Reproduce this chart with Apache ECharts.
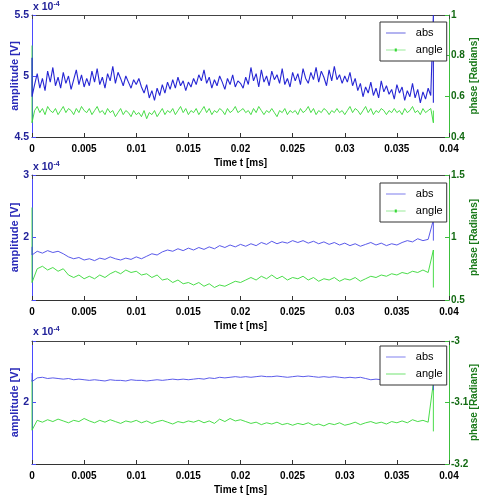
<!DOCTYPE html>
<html><head><meta charset="utf-8">
<script src="https://cdn.jsdelivr.net/npm/echarts@6/dist/echarts.min.js"></script>
<style>html,body{margin:0;padding:0;background:#fff}#c{width:483px;height:498px}</style>
</head><body><div id="c"></div>
<script>
// time samples (ms); first/last duplicated for the edge transients
const tFine = [0, 0,
0.00025,0.0005,0.00075,0.001,0.00125,0.0015,0.00175,0.002,0.00225,0.0025,0.00275,0.003,0.00325,0.0035,0.00375,0.004,0.00425,0.0045,0.00475,0.005,
0.00525,0.0055,0.00575,0.006,0.00625,0.0065,0.00675,0.007,0.00725,0.0075,0.00775,0.008,0.00825,0.0085,0.00875,0.009,0.00925,0.0095,0.00975,0.01,
0.01025,0.0105,0.01075,0.011,0.01125,0.0115,0.01175,0.012,0.01225,0.0125,0.01275,0.013,0.01325,0.0135,0.01375,0.014,0.01425,0.0145,0.01475,0.015,
0.01525,0.0155,0.01575,0.016,0.01625,0.0165,0.01675,0.017,0.01725,0.0175,0.01775,0.018,0.01825,0.0185,0.01875,0.019,0.01925,0.0195,0.01975,0.02,
0.02025,0.0205,0.02075,0.021,0.02125,0.0215,0.02175,0.022,0.02225,0.0225,0.02275,0.023,0.02325,0.0235,0.02375,0.024,0.02425,0.0245,0.02475,0.025,
0.02525,0.0255,0.02575,0.026,0.02625,0.0265,0.02675,0.027,0.02725,0.0275,0.02775,0.028,0.02825,0.0285,0.02875,0.029,0.02925,0.0295,0.02975,0.03,
0.03025,0.0305,0.03075,0.031,0.03125,0.0315,0.03175,0.032,0.03225,0.0325,0.03275,0.033,0.03325,0.0335,0.03375,0.034,0.03425,0.0345,0.03475,0.035,
0.03525,0.0355,0.03575,0.036,0.03625,0.0365,0.03675,0.037,0.03725,0.0375,0.03775,0.038,0.03825,0.0385,
0.0385];
const tCoarse = [0, 0,
0.0005,0.001,0.0015,0.002,0.0025,0.003,0.0035,0.004,0.0045,0.005,
0.0055,0.006,0.0065,0.007,0.0075,0.008,0.0085,0.009,0.0095,0.01,
0.0105,0.011,0.0115,0.012,0.0125,0.013,0.0135,0.014,0.0145,0.015,
0.0155,0.016,0.0165,0.017,0.0175,0.018,0.0185,0.019,0.0195,0.02,
0.0205,0.021,0.0215,0.022,0.0225,0.023,0.0235,0.024,0.0245,0.025,
0.0255,0.026,0.0265,0.027,0.0275,0.028,0.0285,0.029,0.0295,0.03,
0.0305,0.031,0.0315,0.032,0.0325,0.033,0.0335,0.034,0.0345,0.035,
0.0355,0.036,0.0365,0.037,0.0375,0.038,0.0385,
0.0385];

// Plot 1 (amplitude in units of 1e-4 V, phase in rad)
const abs1 = [5.15, 4.83,
4.93,5.02,4.90,4.98,4.88,5.04,4.95,5.07,4.92,4.99,4.90,5.03,4.94,5.00,4.89,4.97,5.05,4.93,5.01,4.91,
4.98,4.92,5.04,4.95,5.06,4.93,4.99,4.90,5.02,4.96,5.08,4.94,5.03,4.98,4.92,5.00,4.95,4.90,4.97,4.93,
4.98,4.91,4.86,4.93,4.82,4.88,4.80,4.90,4.84,4.93,4.86,4.95,4.89,4.97,4.90,4.99,4.92,4.96,4.88,4.95,
4.91,4.98,4.93,5.01,4.96,5.05,4.94,4.99,4.90,4.97,4.92,5.00,4.95,4.89,4.98,4.93,5.01,4.91,4.96,4.94,
4.90,4.99,4.93,5.07,4.96,5.02,4.91,5.05,4.95,5.00,4.92,5.04,4.97,5.01,4.94,5.06,4.93,4.98,4.91,5.03,
4.96,5.02,4.93,5.06,4.98,4.94,5.03,4.97,5.07,4.95,5.04,4.99,4.92,5.05,4.96,5.08,4.97,5.01,4.94,5.00,
4.95,5.03,4.92,4.98,4.88,4.94,4.83,4.91,4.86,4.95,4.84,4.90,4.82,4.96,4.87,4.92,4.85,4.89,4.81,4.93,
4.86,4.91,4.80,4.88,4.83,4.94,4.82,4.89,4.78,4.87,4.81,4.90,4.84,
5.5, 4.78];
const angle1 = [0.85, 0.47,
0.53,0.55,0.52,0.54,0.51,0.55,0.53,0.52,0.54,0.51,0.53,0.55,0.52,0.54,0.53,0.51,0.54,0.52,0.55,0.53,
0.52,0.54,0.51,0.53,0.55,0.52,0.53,0.51,0.54,0.52,0.53,0.50,0.52,0.54,0.51,0.53,0.52,0.50,0.53,0.51,
0.52,0.50,0.53,0.49,0.52,0.51,0.53,0.50,0.52,0.54,0.51,0.53,0.52,0.54,0.51,0.53,0.55,0.52,0.54,0.51,
0.53,0.52,0.54,0.51,0.53,0.55,0.52,0.54,0.51,0.53,0.52,0.54,0.53,0.51,0.54,0.52,0.53,0.55,0.52,0.53,
0.54,0.52,0.53,0.51,0.54,0.52,0.55,0.53,0.51,0.53,0.52,0.54,0.52,0.50,0.53,0.52,0.54,0.51,0.53,0.52,
0.53,0.51,0.54,0.52,0.53,0.55,0.52,0.54,0.51,0.53,0.52,0.54,0.53,0.51,0.53,0.52,0.54,0.52,0.53,0.51,
0.53,0.55,0.52,0.54,0.53,0.51,0.53,0.55,0.52,0.54,0.51,0.53,0.52,0.54,0.53,0.51,0.53,0.52,0.54,0.52,
0.53,0.51,0.54,0.52,0.53,0.55,0.52,0.53,0.51,0.54,0.52,0.53,0.54,
0.47, 0.53];

// Plot 2
const abs2 = [1.85, 1.72,
1.78,1.75,1.79,1.76,1.78,1.74,1.69,1.66,1.68,1.64,
1.66,1.63,1.67,1.65,1.69,1.66,1.64,1.67,1.65,1.69,
1.66,1.70,1.74,1.72,1.77,1.80,1.78,1.82,1.79,1.83,
1.80,1.84,1.81,1.85,1.82,1.87,1.84,1.88,1.85,1.89,
1.86,1.90,1.87,1.92,1.89,1.94,1.90,1.93,1.91,1.95,
1.92,1.95,1.91,1.94,1.90,1.93,1.89,1.92,1.88,1.91,
1.87,1.90,1.86,1.89,1.92,1.88,1.91,1.87,1.90,1.88,
1.92,1.95,1.93,1.98,1.95,1.97,
2.28, 1.95];
const angle2 = [1.24, 0.64,
0.75,0.77,0.74,0.76,0.73,0.75,0.70,0.68,0.70,0.67,
0.69,0.67,0.70,0.68,0.71,0.73,0.71,0.74,0.72,0.73,
0.70,0.71,0.68,0.70,0.66,0.67,0.64,0.66,0.63,0.64,
0.62,0.64,0.61,0.63,0.60,0.62,0.61,0.63,0.65,0.64,
0.66,0.68,0.66,0.69,0.67,0.70,0.67,0.69,0.66,0.68,
0.67,0.69,0.66,0.68,0.65,0.67,0.66,0.68,0.65,0.67,
0.66,0.68,0.65,0.67,0.69,0.68,0.70,0.69,0.71,0.70,
0.72,0.71,0.73,0.72,0.74,0.72,
0.90, 0.60];

// Plot 3
const abs3 = [2.48, 2.34,
2.40,2.41,2.39,2.40,2.39,2.38,2.39,2.37,2.38,2.37,
2.36,2.37,2.36,2.35,2.37,2.36,2.36,2.35,2.37,2.36,
2.36,2.35,2.36,2.37,2.36,2.37,2.38,2.37,2.38,2.37,
2.38,2.39,2.38,2.40,2.39,2.41,2.40,2.41,2.42,2.41,
2.42,2.41,2.42,2.43,2.42,2.42,2.43,2.42,2.41,2.42,
2.43,2.42,2.43,2.42,2.41,2.42,2.41,2.42,2.41,2.40,
2.41,2.40,2.41,2.39,2.37,2.38,2.37,2.38,2.37,2.38,
2.37,2.38,2.37,2.38,2.37,2.38,
2.38, 2.20];
const angle3 = [-3.063, -3.145,
-3.129,-3.132,-3.128,-3.131,-3.127,-3.130,-3.133,-3.129,-3.131,-3.126,
-3.130,-3.133,-3.129,-3.132,-3.128,-3.131,-3.134,-3.130,-3.132,-3.129,
-3.133,-3.130,-3.134,-3.131,-3.129,-3.132,-3.135,-3.131,-3.133,-3.130,
-3.132,-3.129,-3.133,-3.130,-3.134,-3.127,-3.131,-3.126,-3.130,-3.128,
-3.131,-3.134,-3.132,-3.136,-3.133,-3.135,-3.132,-3.136,-3.134,-3.137,
-3.134,-3.136,-3.133,-3.137,-3.135,-3.138,-3.134,-3.136,-3.133,-3.137,
-3.135,-3.132,-3.136,-3.133,-3.131,-3.134,-3.132,-3.135,-3.131,-3.133,
-3.130,-3.133,-3.128,-3.131,-3.129,-3.132,
-3.068, -3.147];

const legendNames = ['abs', 'angle'];
const xName = 'Time t [ms]';
const yLeftName = 'amplitude [V]';
const yRightName = 'phase [Radians]';
const expLabel = 'x 10';
const expSup = '-4';

const ff = "'Liberation Sans Narrow', 'Liberation Sans', Arial, sans-serif";
const ffN = "'Liberation Sans', Arial, sans-serif";
const BLUE_AX = '#4a4aff', GREEN_AX = '#3cbf3c';
const grids = [
  {left: 32, top: 15, width: 417, height: 122, outerBoundsMode: 'none', containLabel: false},
  {left: 32, top: 175, width: 417, height: 125, outerBoundsMode: 'none', containLabel: false},
  {left: 32, top: 341, width: 417, height: 123, outerBoundsMode: 'none', containLabel: false}
];

function pair(t, v) { return t.map((x, i) => [x, v[i]]); }

const xAxes = [], yAxes = [];
grids.forEach((g, i) => {
  xAxes.push({type: 'value', gridIndex: i, position: 'bottom', min: 0, max: 0.04, interval: 0.005,
    name: xName, nameLocation: 'middle', nameGap: 21, nameMoveOverlap: false,
    nameTextStyle: {fontFamily: ff, fontWeight: 'bold', fontSize: 10, color: '#000'},
    axisLine: {show: true, onZero: false, lineStyle: {color: '#333', width: 1}},
    axisTick: {show: true, inside: true, length: 4, lineStyle: {color: '#333'}},
    axisLabel: {margin: 7, fontFamily: ff, fontWeight: 'bold', fontSize: 10, color: '#000', showMinLabel: true, showMaxLabel: true},
    splitLine: {show: false}});
});
grids.forEach((g, i) => {
  xAxes.push({type: 'value', gridIndex: i, position: 'top', min: 0, max: 0.04, interval: 0.005,
    axisLine: {show: true, onZero: false, lineStyle: {color: '#444', width: 1}},
    axisTick: {show: true, inside: true, length: 4, lineStyle: {color: '#444'}},
    axisLabel: {show: false}, splitLine: {show: false}});
});
const yRanges = [
  {lmin: 4.5, lmax: 5.5, li: 0.5, lshow: null, rmin: 0.4, rmax: 1, ri: 0.2},
  {lmin: 1, lmax: 3, li: 1, lshow: [2, 3], rmin: 0.5, rmax: 1.5, ri: 0.5},
  {lmin: 1, lmax: 3, li: 1, lshow: [2], rmin: -3.2, rmax: -3, ri: 0.1}
];
yRanges.forEach((r, i) => {
  yAxes.push({type: 'value', gridIndex: i, position: 'left', min: r.lmin, max: r.lmax, interval: r.li,
    name: yLeftName, nameLocation: 'middle', nameRotate: 90, nameGap: 12, nameMoveOverlap: false,
    nameTextStyle: {color: '#2a2ab8', fontWeight: 'bold', fontSize: 11, fontFamily: ffN},
    axisLine: {show: true, onZero: false, lineStyle: {color: BLUE_AX}},
    axisTick: {show: true, inside: true, length: 4, lineStyle: {color: BLUE_AX}},
    axisLabel: {margin: 3, color: '#22229a', fontWeight: 'bold', fontSize: 10.5, fontFamily: ff,
      formatter: v => (r.lshow && r.lshow.indexOf(Math.round(v * 1000) / 1000) < 0) ? '' : String(Math.round(v * 1000) / 1000)},
    splitLine: {show: false}});
  yAxes.push({type: 'value', gridIndex: i, position: 'right', min: r.rmin, max: r.rmax, interval: r.ri,
    name: yRightName, nameLocation: 'middle', nameRotate: 90, nameGap: 20, nameMoveOverlap: false,
    nameTextStyle: {color: '#1a7a1a', fontWeight: 'bold', fontSize: 10, fontFamily: ffN},
    axisLine: {show: true, onZero: false, lineStyle: {color: GREEN_AX}},
    axisTick: {show: true, inside: true, length: 4, lineStyle: {color: GREEN_AX}},
    axisLabel: {margin: 2, color: '#126a12', fontWeight: 'bold', fontSize: 10, fontFamily: ff,
      formatter: v => String(Math.round(v * 1000) / 1000)},
    splitLine: {show: false}});
});

const absSets = [[tFine, abs1], [tCoarse, abs2], [tCoarse, abs3]];
const angSets = [[tFine, angle1], [tCoarse, angle2], [tCoarse, angle3]];
const absColors = ['#2626d4', '#4646e6', '#4a4ae8'];
const angColor = '#36d836';
const absWidth = [1.1, 0.9, 0.9];
const series = [];
for (let i = 0; i < 3; i++) {
  series.push({type: 'line', name: legendNames[0] + (i + 1), xAxisIndex: i, yAxisIndex: 2 * i,
    data: pair(absSets[i][0], absSets[i][1]), symbol: 'none', showSymbol: false,
    lineStyle: {color: absColors[i], width: absWidth[i]}, itemStyle: {color: absColors[i]}, z: 3});
  series.push({type: 'line', name: legendNames[1] + (i + 1), xAxisIndex: i, yAxisIndex: 2 * i + 1,
    data: pair(angSets[i][0], angSets[i][1]), symbol: 'none', showSymbol: false,
    lineStyle: {color: angColor, width: 0.9}, itemStyle: {color: angColor}, z: 2});
}

// legend icons: thin line (with a small dot for 'angle' in plots 1 and 2)
const ICON_LINE = 'path://M0,0M0,9.5L28,9.5L28,10.5L0,10.5ZM28,20';
const ICON_DOT = 'path://M0,0M0,9.5L28,9.5L28,10.5L0,10.5ZM12.5,8L15.5,8L15.5,12L12.5,12ZM28,20';
const legendTops = [22, 183, 346];
const legends = legendTops.map((tp, i) => ({
  left: 380, top: tp, orient: 'vertical',
  data: [{name: legendNames[0] + (i + 1), icon: ICON_LINE, itemStyle: {color: absColors[i]}},
         {name: legendNames[1] + (i + 1), icon: i < 2 ? ICON_DOT : ICON_LINE, itemStyle: {color: angColor}}],
  formatter: n => n.replace(/\d$/, ''), selectedMode: false,
  backgroundColor: '#fff', borderColor: '#333', borderWidth: 1, padding: [4, 4, 4, 6],
  itemWidth: 30, itemHeight: 14, itemGap: 3,
  itemStyle: {borderWidth: 0},
  lineStyle: {width: 0},
  textStyle: {fontFamily: ff, fontSize: 11, color: '#000'}
}));

const expTops = [1, 161, 326];
const graphics = expTops.map(tp => ({
  type: 'text', left: 33, top: tp, silent: true,
  style: {text: '{a|' + expLabel + '}{b|' + expSup + '}',
    rich: {a: {fontFamily: ff, fontWeight: 'bold', fontSize: 10.5, fill: '#22229a'},
           b: {fontFamily: ff, fontWeight: 'bold', fontSize: 7, fill: '#22229a', verticalAlign: 'top', padding: [0, 0, 6, 0]}}}
}));

const chart = echarts.init(document.getElementById('c'), null, {renderer: 'canvas'});
chart.setOption({
  animation: false, backgroundColor: '#fff',
  grid: grids, xAxis: xAxes, yAxis: yAxes, series: series, legend: legends, graphic: graphics
});
</script></body></html>
